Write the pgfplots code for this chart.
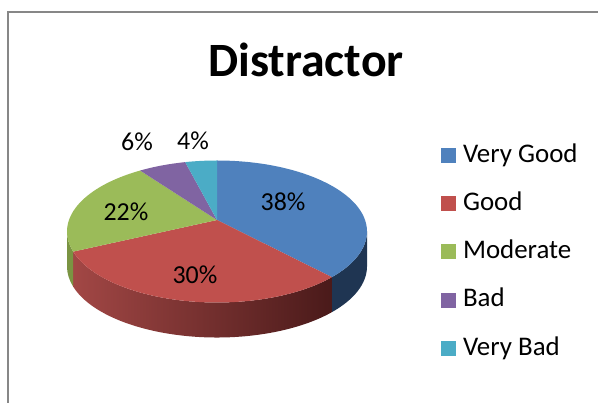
\documentclass[border=0pt]{standalone}
\usepackage{pgfplots}
\pgfplotsset{compat=1.18}
\usepackage{pgfplotstable}
\usepackage{fontspec}
\setmainfont{Carlito}
\usetikzlibrary{calc}
\definecolor{cVG}{HTML}{4F81BD}
\definecolor{cG}{HTML}{C0504D}
\definecolor{cM}{HTML}{9BBB59}
\definecolor{cB}{HTML}{8064A2}
\definecolor{cVB}{HTML}{4BACC6}
\definecolor{sideVG}{HTML}{1F3552}
\definecolor{sideGL}{HTML}{A24745}
\definecolor{sideGR}{HTML}{4A1A1A}
\definecolor{sideM}{HTML}{7A9442}
\definecolor{framec}{HTML}{878787}

\pgfplotstableread{
category value
VeryGood 38
Good 30
Moderate 22
Bad 6
VeryBad 4
}\piedata

% perspective mapping of a slice angle onto the tilted ellipse
\newcommand\persp[2]{%
 \pgfmathsetmacro\tmpn{atan2(sin(#2)+0.0815,cos(#2))}%
 \pgfmathsetmacro\tmpd{atan2(-0.0815*cos(#2),1+0.0815*sin(#2))}%
 \pgfmathsetmacro\tmpr{\tmpn-\tmpd-(#2)}%
 \pgfmathsetmacro#1{(#2)+\tmpr-360*round(\tmpr/360)}%
}

\begin{document}
\begin{tikzpicture}
\pgfplotstablegetelem{0}{value}\of\piedata \let\vA\pgfplotsretval
\pgfplotstablegetelem{1}{value}\of\piedata \let\vB\pgfplotsretval
\pgfplotstablegetelem{2}{value}\of\piedata \let\vC\pgfplotsretval
\pgfplotstablegetelem{3}{value}\of\piedata \let\vD\pgfplotsretval
\pgfplotstablegetelem{4}{value}\of\piedata \let\vE\pgfplotsretval
\pgfmathsetmacro\pA{90}
\pgfmathsetmacro\pB{\pA-3.6*\vA}
\pgfmathsetmacro\pC{\pB-3.6*\vB}
\pgfmathsetmacro\pD{\pC-3.6*\vC}
\pgfmathsetmacro\pE{\pD-3.6*\vD}
\pgfmathsetmacro\pF{\pE-3.6*\vE}
\persp\tA{\pA}
\persp\tB{\pB}
\persp\tC{\pC}
\persp\tD{\pD}
\persp\tE{\pE}
\persp\tF{\pF}
\begin{axis}[name=pie, width=598bp, height=403bp, scale only axis,
  xmin=0, xmax=598, ymin=0, ymax=403, hide axis, clip=false,
  legend cell align=left,
  legend style={at={(0.7375,0.6459)}, anchor=north west, draw=none, fill=none,
    inner sep=0pt, outer sep=0pt, row sep=22.6bp,
    font=\fontsize{27}{32}\selectfont,
    nodes={inner sep=0pt, text height=19.6bp, text depth=6bp},
    /tikz/every odd column/.append style={column sep=7bp}},
  legend image code/.code={\fill[#1] (0bp,-7.5bp) rectangle (15bp,7.5bp);}]
\addlegendimage{fill=cVG, draw=none}
\addlegendimage{fill=cG, draw=none}
\addlegendimage{fill=cM, draw=none}
\addlegendimage{fill=cB, draw=none}
\addlegendimage{fill=cVB, draw=none}
\legend{Very Good,Good,Moderate,Bad,Very Bad}

% frame
\draw[framec, line width=1.5bp] (axis cs:598,391) -- (axis cs:8,391) -- (axis cs:8,0);

% side walls
\fill[sideVG] ($(axis cs:217,171.5)+(0:150bp and 71bp)$) arc[start angle=0,end angle=\tB,x radius=150bp,y radius=71bp] -- ++(0,-35bp) arc[start angle=\tB,end angle=0,x radius=150bp,y radius=71bp] -- cycle;
\shade[left color=sideGL, right color=sideGR] ($(axis cs:217,171.5)+(\tB:150bp and 71bp)$) arc[start angle=\tB,end angle=\tC,x radius=150bp,y radius=71bp] -- ++(0,-35bp) arc[start angle=\tC,end angle=\tB,x radius=150bp,y radius=71bp] -- cycle;
\fill[sideM] ($(axis cs:217,171.5)+(\tC:150bp and 71bp)$) arc[start angle=\tC,end angle=-180,x radius=150bp,y radius=71bp] -- ++(0,-35bp) arc[start angle=-180,end angle=\tC,x radius=150bp,y radius=71bp] -- cycle;

% top faces
\fill[cVG] (axis cs:217,183) -- ($(axis cs:217,171.5)+(\tA:150bp and 71bp)$) arc[start angle=\tA,end angle=\tB,x radius=150bp,y radius=71bp] -- cycle;
\fill[cG] (axis cs:217,183) -- ($(axis cs:217,171.5)+(\tB:150bp and 71bp)$) arc[start angle=\tB,end angle=\tC,x radius=150bp,y radius=71bp] -- cycle;
\fill[cM] (axis cs:217,183) -- ($(axis cs:217,171.5)+(\tC:150bp and 71bp)$) arc[start angle=\tC,end angle=\tD,x radius=150bp,y radius=71bp] -- cycle;
\fill[cB] (axis cs:217,183) -- ($(axis cs:217,171.5)+(\tD:150bp and 71bp)$) arc[start angle=\tD,end angle=\tE,x radius=150bp,y radius=71bp] -- cycle;
\fill[cVB] (axis cs:217,183) -- ($(axis cs:217,171.5)+(\tE:150bp and 71bp)$) arc[start angle=\tE,end angle=\tF,x radius=150bp,y radius=71bp] -- cycle;

% data labels
\node[font=\fontsize{26}{31}\selectfont] at (axis cs:283,201) {38\%};
\node[font=\fontsize{26}{31}\selectfont] at (axis cs:195,128) {30\%};
\node[font=\fontsize{26}{31}\selectfont] at (axis cs:126,191) {22\%};
\node[font=\fontsize{26}{31}\selectfont] at (axis cs:137,261) {6\%};
\node[font=\fontsize{26}{31}\selectfont] at (axis cs:193,262) {4\%};

% title
\node[font=\bfseries\fontsize{48}{57}\selectfont, anchor=base] at (axis cs:306,326) {Distractor};
\end{axis}
\pgfresetboundingbox
\path (pie.south west) rectangle (pie.north east);
\end{tikzpicture}
\end{document}
